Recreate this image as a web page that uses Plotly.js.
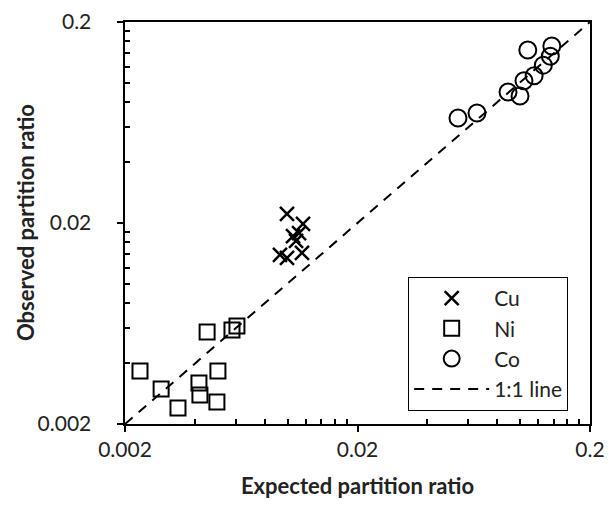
<!DOCTYPE html>
<html>
<head>
<meta charset="utf-8">
<script src="https://cdn.plot.ly/plotly-3.0.1.min.js"></script>
<style>html,body{margin:0;padding:0;background:#fff;}#chart{width:609px;height:507px;}</style>
</head>
<body>
<div id="chart"></div>
<script>
// Expected (x) vs observed (y) partition ratios
const cuExpected = [0.00995, 0.01166, 0.01121, 0.01088, 0.01056, 0.00928, 0.00995, 0.01154];
const cuObserved = [0.0222, 0.0198, 0.0178, 0.0163, 0.0172, 0.0139, 0.0134, 0.0142];

const niExpected = [0.00232, 0.00286, 0.00338, 0.00416, 0.00420, 0.00451, 0.00497, 0.00502, 0.00577, 0.00606];
const niObserved = [0.00367, 0.00299, 0.00240, 0.00320, 0.00279, 0.00574, 0.00257, 0.00367, 0.00587, 0.00615];

const coExpected = [0.0541, 0.0653, 0.0888, 0.100, 0.104, 0.115, 0.108, 0.137, 0.135, 0.126];
const coObserved = [0.0666, 0.0705, 0.0897, 0.0857, 0.102, 0.108, 0.145, 0.152, 0.135, 0.122];

const lineX = [0.002, 0.2];
const lineY = [0.002, 0.2];

const majorTicks = [0.002, 0.02, 0.2];
const majorLabels = ['0.002', '0.02', '0.2'];
const minorTicks = [0.004, 0.006, 0.008, 0.010, 0.012, 0.014, 0.016, 0.018,
                    0.04, 0.06, 0.08, 0.10, 0.12, 0.14, 0.16, 0.18];

const xTitle = 'Expected partition ratio';
const yTitle = 'Observed partition ratio';

const FONT = 'Lato, "Open Sans", sans-serif';
const TITLE_FONT = {family: FONT, size: 22, color: '#222', weight: 'bold'};

const traces = [
  {x: cuExpected, y: cuObserved, name: 'Cu', type: 'scatter', mode: 'markers',
   marker: {symbol: 'x-thin', size: 14, color: '#000', line: {color: '#000', width: 2.5}}},
  {x: niExpected, y: niObserved, name: 'Ni', type: 'scatter', mode: 'markers',
   marker: {symbol: 'square-open', size: 15, color: '#000', line: {color: '#000', width: 2}}},
  {x: coExpected, y: coObserved, name: 'Co', type: 'scatter', mode: 'markers',
   marker: {symbol: 'circle-open', size: 17, color: '#000', line: {color: '#000', width: 2}}},
  {x: lineX, y: lineY, name: '1:1 line', type: 'scatter', mode: 'lines',
   line: {color: '#000', width: 2, dash: '10px,8px'}}
];

function axis(labels) {
  return {
    type: 'log',
    range: [Math.log10(0.002), Math.log10(0.2)],
    tickmode: 'array', tickvals: majorTicks, ticktext: labels,
    ticks: 'outside', ticklen: 6, tickwidth: 2, tickcolor: '#000',
    showline: true, linewidth: 2, linecolor: '#000', mirror: true,
    showgrid: false, zeroline: false,
    tickfont: {family: FONT, size: 21, color: '#222'},
    minor: {tickmode: 'array', tickvals: minorTicks, ticks: 'inside', ticklen: 5, tickwidth: 2, tickcolor: '#000', showgrid: false},
    automargin: false
  };
}

const PAD = '\u00a0\u00a0\u00a0\u00a0';
const xaxis = axis(majorLabels);
xaxis.title = {text: xTitle, font: TITLE_FONT, standoff: 18};
const yaxis = axis(majorLabels.map(s => s + PAD));

const layout = {
  width: 609, height: 507,
  margin: {l: 125, r: 19, t: 22, b: 83},
  paper_bgcolor: '#fff', plot_bgcolor: '#fff',
  xaxis: xaxis,
  yaxis: yaxis,
  annotations: [{
    text: yTitle, textangle: -90, showarrow: false,
    xref: 'paper', yref: 'paper', x: -0.215, y: 0.5,
    xanchor: 'center', yanchor: 'middle',
    font: TITLE_FONT
  }],
  showlegend: true,
  legend: {
    x: 0.609, y: 0.366, xanchor: 'left', yanchor: 'top',
    bgcolor: '#fff', bordercolor: '#000', borderwidth: 1,
    font: {family: FONT, size: 21, color: '#222'},
    itemwidth: 75
  },
  font: {family: FONT}
};

Plotly.newPlot('chart', traces, layout, {displayModeBar: false, staticPlot: true});
</script>
</body>
</html>
